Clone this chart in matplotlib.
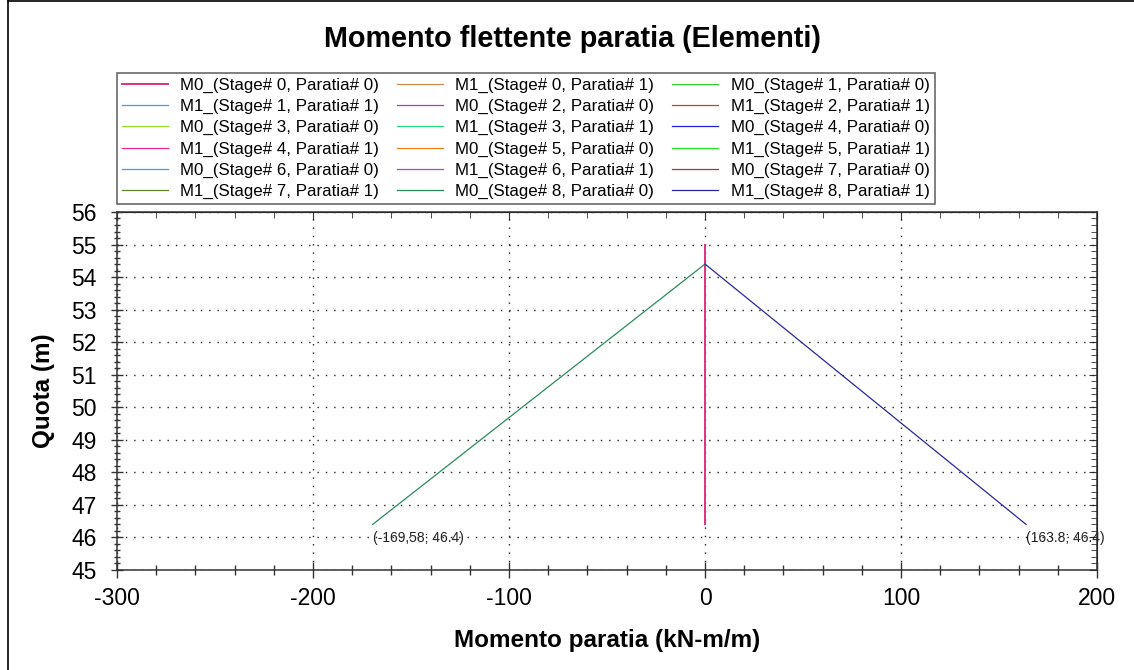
import matplotlib
matplotlib.use("Agg")
import matplotlib.pyplot as plt
from matplotlib.lines import Line2D
from matplotlib.ticker import MultipleLocator

plt.rcParams["font.family"] = ["Liberation Sans", "DejaVu Sans"]
plt.rcParams["axes.unicode_minus"] = False

# Series: label, colour, x (moment), y (quota)
labels = [
    "M0_(Stage# 0, Paratia# 0)", "M1_(Stage# 0, Paratia# 1)", "M0_(Stage# 1, Paratia# 0)",
    "M1_(Stage# 1, Paratia# 1)", "M0_(Stage# 2, Paratia# 0)", "M1_(Stage# 2, Paratia# 1)",
    "M0_(Stage# 3, Paratia# 0)", "M1_(Stage# 3, Paratia# 1)", "M0_(Stage# 4, Paratia# 0)",
    "M1_(Stage# 4, Paratia# 1)", "M0_(Stage# 5, Paratia# 0)", "M1_(Stage# 5, Paratia# 1)",
    "M0_(Stage# 6, Paratia# 0)", "M1_(Stage# 6, Paratia# 1)", "M0_(Stage# 7, Paratia# 0)",
    "M1_(Stage# 7, Paratia# 1)", "M0_(Stage# 8, Paratia# 0)", "M1_(Stage# 8, Paratia# 1)",
]
colors = [
    "#dc3281", "#d28c46", "#32cd32",
    "#3c9fe6", "#a03ce6", "#dc3232",
    "#96dc28", "#28dc82", "#1e1edc",
    "#f0288c", "#f08214", "#28e628",
    "#3c9fe6", "#a046e6", "#963c3c",
    "#648228", "#288c5a", "#28289a",
]

m0_s0_x = [0.0, 0.0]
m0_s0_y = [55.0, 46.4]
m0_s8_x = [0.0, -169.58]
m0_s8_y = [54.4, 46.4]
m1_s8_x = [0.0, 163.8]
m1_s8_y = [54.4, 46.4]

series_x = {0: m0_s0_x, 16: m0_s8_x, 17: m1_s8_x}
series_y = {0: m0_s0_y, 16: m0_s8_y, 17: m1_s8_y}

fig = plt.figure(figsize=(11.34, 6.70), dpi=100)
ax = fig.add_axes([0.1032, 0.1493, 0.8642, 0.5343])

handles = []
for i, (lab, col) in enumerate(zip(labels, colors)):
    lw = 1.4 if i == 0 else 0.9
    h, = ax.plot(series_x.get(i, []), series_y.get(i, []), color=col, lw=lw, label=lab)
    handles.append(h)

ax.set_xlim(-300, 200)
ax.set_ylim(45, 56)
ax.xaxis.set_major_locator(MultipleLocator(100))
ax.xaxis.set_minor_locator(MultipleLocator(20))
ax.yaxis.set_major_locator(MultipleLocator(1))
ax.yaxis.set_minor_locator(MultipleLocator(0.2))
ax.grid(True, which="major", color="#222222", linestyle=(0, (1, 5)), linewidth=1.0)

for sp in ax.spines.values():
    sp.set_color("#333333")
    sp.set_linewidth(1.1)

ax.tick_params(axis="x", which="major", direction="inout", length=12, width=1, colors="#333333",
               labelsize=16.5, labelcolor="black", pad=6)
ax.tick_params(axis="x", which="minor", direction="inout", length=6.5, width=1, colors="#333333")
ax.tick_params(axis="y", which="major", direction="inout", length=9, width=1, colors="#333333",
               labelsize=16.5, labelcolor="black", pad=10)
ax.tick_params(axis="y", which="minor", direction="inout", length=5, width=1, colors="#333333")

secx = ax.secondary_xaxis("top")
secx.xaxis.set_major_locator(MultipleLocator(100))
secx.xaxis.set_minor_locator(MultipleLocator(20))
secx.tick_params(which="both", direction="in", labeltop=False, colors="#333333")
secx.tick_params(which="major", length=6)
secx.tick_params(which="minor", length=4)
secy = ax.secondary_yaxis("right")
secy.yaxis.set_major_locator(MultipleLocator(1))
secy.yaxis.set_minor_locator(MultipleLocator(0.2))
secy.tick_params(which="both", direction="in", labelright=False, colors="#333333")
secy.tick_params(which="major", length=6)
secy.tick_params(which="minor", length=4)

ax.set_xlabel("Momento paratia (kN-m/m)", fontsize=17.5, fontweight="bold", labelpad=14)
ax.set_ylabel("Quota (m)", fontsize=17.5, fontweight="bold", labelpad=12)

# end-point annotations
ax.annotate("(-169,58; 46.4)", (m0_s8_x[-1], m0_s8_y[-1]), xytext=(0, -10),
            textcoords="offset points", fontsize=10, color="#222222", va="center", ha="left")
ax.annotate("(163.8; 46.4)", (m1_s8_x[-1], m1_s8_y[-1]), xytext=(0, -10),
            textcoords="offset points", fontsize=10, color="#222222", va="center", ha="left")

fig.suptitle("Momento flettente paratia (Elementi)", fontsize=20.7, fontweight="bold",
             x=0.505, y=0.942, va="center")

# legend filled row-wise like the original
order = [r * 3 + c for c in range(3) for r in range(6)]
leg = fig.legend([handles[k] for k in order], [labels[k] for k in order],
                 loc="upper left", bbox_to_anchor=(0.1029, 0.8915), ncol=3,
                 fontsize=12.2, frameon=True, fancybox=False, edgecolor="#444444",
                 borderaxespad=0, handlelength=2.7, handletextpad=0.75,
                 columnspacing=1.05, labelspacing=0.36, borderpad=0.3)
leg.get_frame().set_linewidth(1.2)

# outer frame lines (left and top)
fig.add_artist(Line2D([0.007, 0.007], [0, 0.998], color="black", lw=1.2))
fig.add_artist(Line2D([0.007, 1.0], [0.998, 0.998], color="black", lw=1.2))

fig.savefig("out.png", dpi=100)
